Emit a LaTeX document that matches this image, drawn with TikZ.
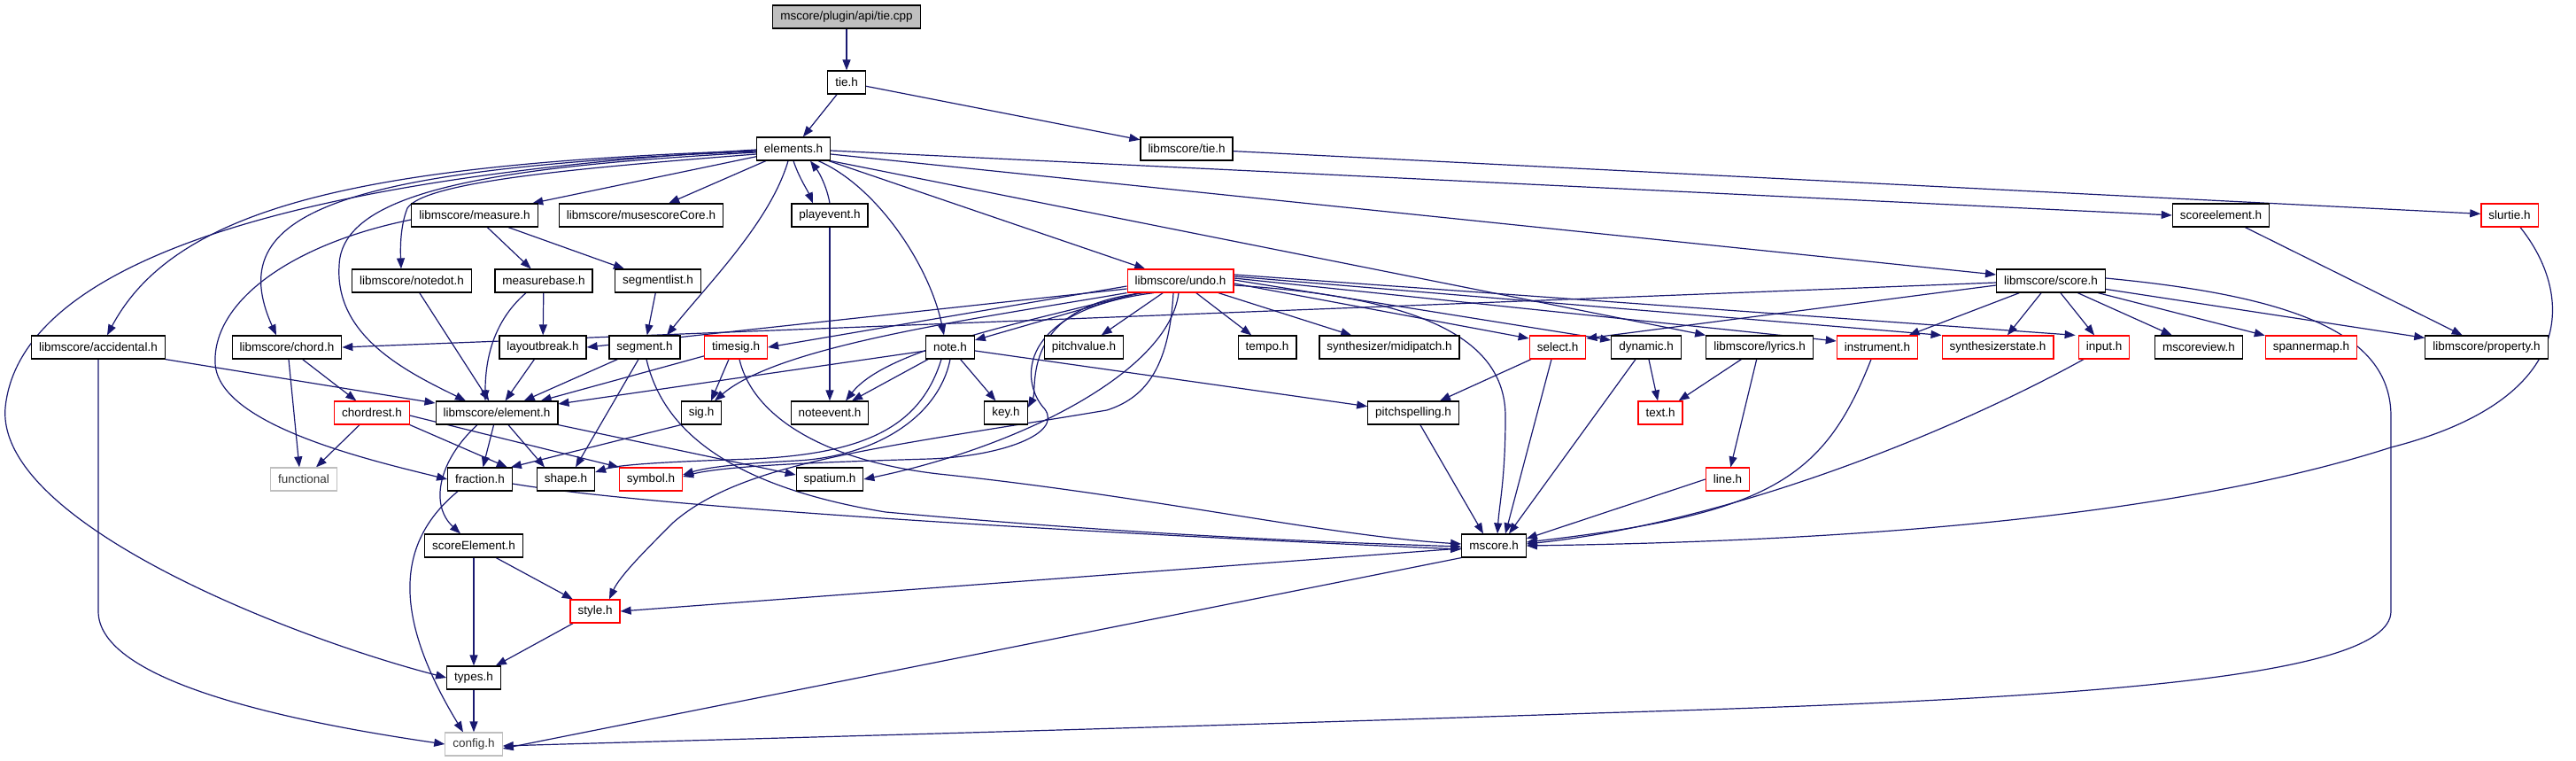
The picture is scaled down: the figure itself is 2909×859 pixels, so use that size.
\documentclass[tikz,border=0pt]{standalone}
\usepackage{fontspec}
\setmainfont{Liberation Sans}
\usetikzlibrary{arrows.meta}
\definecolor{edgec}{HTML}{191970}
\definecolor{rootfill}{HTML}{BFBFBF}
\definecolor{grayline}{HTML}{BFBFBF}
\pgfdeclarelayer{bg}
\pgfsetlayers{bg,main}
\begin{document}
\begin{tikzpicture}[x=1pt,y=-1pt,
 box/.style={draw=black,line width=1.2pt,fill=white,minimum height=26pt,inner xsep=8.5pt,inner ysep=0pt,font=\fontsize{13.5}{16}\selectfont},
 redbox/.style={box,draw=red},
 graybox/.style={box,draw=grayline,text=black!80},
 rootbox/.style={box,fill=rootfill},
 dep/.style={draw=edgec,line width=1.2pt,-{Triangle[length=12pt,width=9pt]}}]
\useasboundingbox (0,0) rectangle (2909,859);
% row 0-2
\node[rootbox] (root) at (956,19) {mscore/plugin/api/tie.cpp};
\node[box] (tieh) at (956,93) {tie.h};
\node[box] (elements) at (896,168) {elements.h};
\node[box] (ltie) at (1340,168) {libmscore/tie.h};
% row 3
\node[box] (measure) at (536,243) {libmscore/measure.h};
\node[box] (msc) at (724,243) {libmscore/musescoreCore.h};
\node[box] (playevent) at (937,243) {playevent.h};
\node[box] (scoreelement) at (2508,243) {scoreelement.h};
\node[redbox] (slurtie) at (2834,243) {slurtie.h};
% row 4
\node[box] (notedot) at (465,317) {libmscore/notedot.h};
\node[box] (measurebase) at (614,317) {measurebase.h};
\node[box] (segmentlist) at (743,317) {segmentlist.h};
\node[redbox] (undo) at (1333,317) {libmscore/undo.h};
\node[box] (score) at (2316,317) {libmscore/score.h};
% row 5
\node[box] (accidental) at (111,392) {libmscore/accidental.h};
\node[box] (chord) at (324,392) {libmscore/chord.h};
\node[box] (layoutbreak) at (613,392) {layoutbreak.h};
\node[box] (segment) at (728,392) {segment.h};
\node[redbox] (timesig) at (831,392) {timesig.h};
\node[box] (note) at (1073,392) {note.h};
\node[box] (pitchvalue) at (1224,392) {pitchvalue.h};
\node[box] (tempo) at (1431,392) {tempo.h};
\node[box] (midipatch) at (1569,392) {synthesizer/midipatch.h};
\node[redbox] (select) at (1759,392) {select.h};
\node[box] (dynamic) at (1859,392) {dynamic.h};
\node[box] (lyrics) at (1987,392) {libmscore/lyrics.h};
\node[redbox] (instrument) at (2120,392) {instrument.h};
\node[redbox] (synthstate) at (2256,392) {synthesizerstate.h};
\node[redbox] (input) at (2376,392) {input.h};
\node[box] (mscoreview) at (2483,392) {mscoreview.h};
\node[redbox] (spannermap) at (2610,392) {spannermap.h};
\node[box] (property) at (2808,392) {libmscore/property.h};
% row 6
\node[redbox] (chordrest) at (420,466) {chordrest.h};
\node[box] (element) at (561,466) {libmscore/element.h};
\node[box] (sig) at (792,466) {sig.h};
\node[box] (noteevent) at (937,466) {noteevent.h};
\node[box] (key) at (1136,466) {key.h};
\node[box] (pitchspelling) at (1596,466) {pitchspelling.h};
\node[redbox] (text) at (1875,466) {text.h};
% row 7
\node[graybox] (functional) at (343,541) {functional};
\node[box] (fraction) at (542,541) {fraction.h};
\node[box] (shape) at (639,541) {shape.h};
\node[redbox] (symbol) at (735,541) {symbol.h};
\node[box] (spatium) at (937,541) {spatium.h};
\node[redbox] (line) at (1951,541) {line.h};
% row 8-11
\node[box] (scoreEl) at (535,616) {scoreElement.h};
\node[box] (mscore) at (1687,616) {mscore.h};
\node[redbox] (style) at (672,690) {style.h};
\node[box] (types) at (535,765) {types.h};
\node[graybox] (config) at (535,840) {config.h};

\begin{pgfonlayer}{bg}
\draw[dep] (root) -- (tieh);
\draw[dep] (tieh) -- (elements);
\draw[dep] (tieh) -- (ltie);
\draw[dep] (ltie) -- (slurtie);
\draw[dep] ([xshift=12pt]slurtie.south) .. controls (2905,330) and (2915,450) .. (2700,505) .. controls (2420,595) and (2000,612) .. (mscore.east);
% elements
\draw[dep] (elements) -- (measure);
\draw[dep] (elements) -- (msc);
\draw[dep] (elements.south) .. controls (902,200) and (912,215) .. ([xshift=-19pt]playevent.north);
\draw[dep] (playevent.north) .. controls (934,212) and (926,196) .. ([xshift=19pt]elements.south);
\draw[dep] ([yshift=-6pt]elements.west) .. controls (650,190) and (480,205) .. (460,235) .. controls (452,255) and (452,280) .. ([xshift=-12pt]notedot.north);
\draw[dep] ([yshift=-2pt]elements.west) .. controls (420,185) and (200,230) .. ([xshift=10pt]accidental.north);
\draw[dep] ([yshift=-3pt]elements.west) .. controls (380,190) and (250,240) .. ([xshift=-12pt]chord.north);
\draw[dep] ([yshift=-1pt]elements.west) .. controls (250,205) and (20,320) .. (6,460) .. controls (-5,590) and (330,720) .. (types.west);
\draw[dep] ([yshift=-4pt]elements.west) .. controls (560,188) and (385,215) .. (383,300) .. controls (378,380) and (460,420) .. ([xshift=-35pt]element.north);
\draw[dep] ([xshift=-6pt]elements.south) .. controls (870,250) and (800,320) .. ([xshift=25pt]segment.north);
\draw[dep] ([xshift=28pt]elements.south) .. controls (990,210) and (1050,300) .. ([xshift=-7pt]note.north);
\draw[dep] (elements) -- (undo);
\draw[dep] ([yshift=-6pt]elements.east) -- ([yshift=7pt]score.west);
\draw[dep] ([yshift=-2pt]elements.east) -- (scoreelement.west);
\draw[dep] (elements.south east) -- (lyrics.north west);
\draw[dep] (playevent) -- (noteevent);
% measure
\draw[dep] ([yshift=-5pt]measure.west) .. controls (330,275) and (240,340) .. (243,410) .. controls (246,480) and (420,520) .. (fraction.west);
\draw[dep] (measure) -- (measurebase);
\draw[dep] (measure) -- (segmentlist);
\draw[dep] (notedot) -- (element);
\draw[dep] ([xshift=-20pt]measurebase.south) .. controls (560,360) and (548,400) .. ([xshift=-13pt]element.north);
\draw[dep] (measurebase) -- (layoutbreak);
\draw[dep] (segmentlist) -- (segment);
% row 5 left
\draw[dep] (accidental.south east) -- ([yshift=11pt]element.west);
\draw[dep] (accidental.south) -- (111,690) .. controls (111,770) and (330,815) .. (config.west);
\draw[dep] (chord) -- (chordrest);
\draw[dep] ([xshift=2pt]chord.south) -- ([xshift=-5pt]functional.north);
\draw[dep] (chordrest) -- (functional);
\draw[dep] (chordrest.south east) -- ([xshift=-6pt]fraction.north east);
\draw[dep] ([yshift=-3pt]chordrest.east) -- (symbol.north west);
\draw[dep] (layoutbreak) -- (element);
\draw[dep] (segment) -- (element);
\draw[dep] ([xshift=-7pt]segment.south) -- ([xshift=11pt]shape.north);
\draw[dep] ([xshift=2pt]segment.south) .. controls (745,470) and (800,545) .. (1000,578) .. controls (1300,605) and (1500,612) .. ([yshift=-1pt]mscore.west);
\draw[dep] (timesig) -- (element);
\draw[dep] ([xshift=-8pt]timesig.south) -- ([xshift=11pt]sig.north);
\draw[dep] ([xshift=4pt]timesig.south) .. controls (850,470) and (930,520) .. (1060,535) .. controls (1300,560) and (1500,605) .. ([yshift=2pt]mscore.west);
% element
\draw[dep] (element) -- (fraction);
\draw[dep] ([xshift=13pt]element.south) -- ([xshift=-24pt]shape.north);
\draw[dep] (element.south east) -- ([yshift=5pt]spatium.west);
\draw[dep] ([xshift=-22pt]element.south) .. controls (495,520) and (485,570) .. ([xshift=-15pt]scoreEl.north);
\draw[dep] (sig.south west) -- ([xshift=-2pt]fraction.north east);
\draw[dep] ([xshift=-25pt]fraction.south) .. controls (450,610) and (440,690) .. ([xshift=-12pt]config.north);
\draw[dep] ([yshift=-5pt]fraction.east) .. controls (750,575) and (1300,605) .. ([yshift=-4pt]mscore.west);
\draw[dep] (scoreEl) -- (types);
\draw[dep] (scoreEl) -- (style);
\draw[dep] (style) -- (types);
\draw[dep] (types) -- (config);
\draw[dep] ([yshift=-3pt]mscore.west) -- (style.east);
\draw[dep] (mscore.south west) -- ([yshift=-5pt]config.east);
% note
\draw[dep] (note) -- (element);
\draw[dep] (note) -- (noteevent);
\draw[dep] (note) -- (key);
\draw[dep] (note) -- (pitchspelling);
\draw[dep] ([xshift=-10pt]note.south) .. controls (1040,480) and (980,512) .. (850,518) .. controls (760,521) and (700,524) .. ([yshift=8pt]shape.east);
\draw[dep] (note.south) .. controls (1060,470) and (990,515) .. (900,520) .. controls (840,523) and (800,527) .. ([yshift=5pt]symbol.east);
% undo
\draw[dep] (undo) -- (pitchvalue);
\draw[dep] (undo) -- (tempo);
\draw[dep] (undo) -- (midipatch);
\draw[dep] (undo) -- (note);
\draw[dep] ([xshift=-40pt]undo.south) .. controls (1150,345) and (1172,440) .. ([yshift=6pt]key.east);
\draw[dep] ([xshift=-45pt]undo.south) .. controls (1150,365) and (1000,395) .. ([xshift=18pt]noteevent.north);
\draw[dep] (undo.south west) .. controls (1100,360) and (880,390) .. ([xshift=15pt]sig.north);
\draw[dep] ([yshift=-9pt]undo.west) -- (layoutbreak.east);
\draw[dep] ([yshift=-6pt]undo.west) -- (timesig.east);
\draw[dep] ([xshift=-2pt]undo.south) .. controls (1320,420) and (1150,505) .. (spatium.east);
\draw[dep] ([xshift=-30pt]undo.south) .. controls (1150,350) and (1150,430) .. (1180,462) .. controls (1200,490) and (1130,515) .. (1050,518) .. controls (950,521) and (820,525) .. ([yshift=3pt]symbol.east);
\draw[dep] ([xshift=-8pt]undo.south) .. controls (1320,420) and (1290,450) .. (1250,463) .. controls (1000,505) and (840,520) .. (760,590) .. controls (730,620) and (700,650) .. ([xshift=16pt]style.north);
\draw[dep] ([yshift=-5pt]undo.east) .. controls (1600,335) and (1700,380) .. (1700,470) .. controls (1700,540) and (1693,570) .. ([xshift=4pt]mscore.north);
\draw[dep] ([yshift=-3pt]undo.east) -- ([yshift=10pt]select.west);
\draw[dep] ([yshift=1pt]undo.east) -- ([yshift=8pt]dynamic.west);
\draw[dep] ([yshift=3pt]undo.east) -- ([yshift=7pt]instrument.west);
\draw[dep] ([yshift=5pt]undo.east) -- (synthstate.north west);
\draw[dep] ([yshift=7pt]undo.east) -- ([xshift=-3pt]input.north west);
% score
\draw[dep] ([yshift=-2pt]score.west) -- (chord.east);
\draw[dep] ([yshift=-5pt]score.west) -- ([yshift=10pt]select.east);
\draw[dep] (score) -- (instrument);
\draw[dep] (score) -- (synthstate);
\draw[dep] (score) -- (input);
\draw[dep] (score) -- (mscoreview);
\draw[dep] (score) -- (spannermap);
\draw[dep] (score) -- (property);
\draw[dep] ([yshift=3pt]score.east) .. controls (2600,335) and (2700,380) .. (2700,470) -- (2700,690) .. controls (2700,770) and (2300,790) .. (1800,805) .. controls (1200,825) and (800,835) .. ([yshift=-2pt]config.east);
\draw[dep] (scoreelement) -- (property);
% right part
\draw[dep] (select) -- (pitchspelling);
\draw[dep] ([xshift=-7pt]select.south) -- ([xshift=13pt]mscore.north);
\draw[dep] (pitchspelling) -- ([xshift=-12pt]mscore.north);
\draw[dep] (dynamic) -- (text);
\draw[dep] ([xshift=-12pt]dynamic.south) -- ([xshift=17pt]mscore.north);
\draw[dep] (lyrics) -- (text);
\draw[dep] (lyrics) -- (line);
\draw[dep] (line.west) -- ([yshift=8pt]mscore.east);
\draw[dep] ([xshift=-7pt]instrument.south) .. controls (2060,540) and (2000,580) .. ([yshift=4pt]mscore.east);
\draw[dep] ([xshift=-23pt]input.south) .. controls (2200,490) and (1950,590) .. ([yshift=2pt]mscore.east);
\end{pgfonlayer}
\end{tikzpicture}
\end{document}
